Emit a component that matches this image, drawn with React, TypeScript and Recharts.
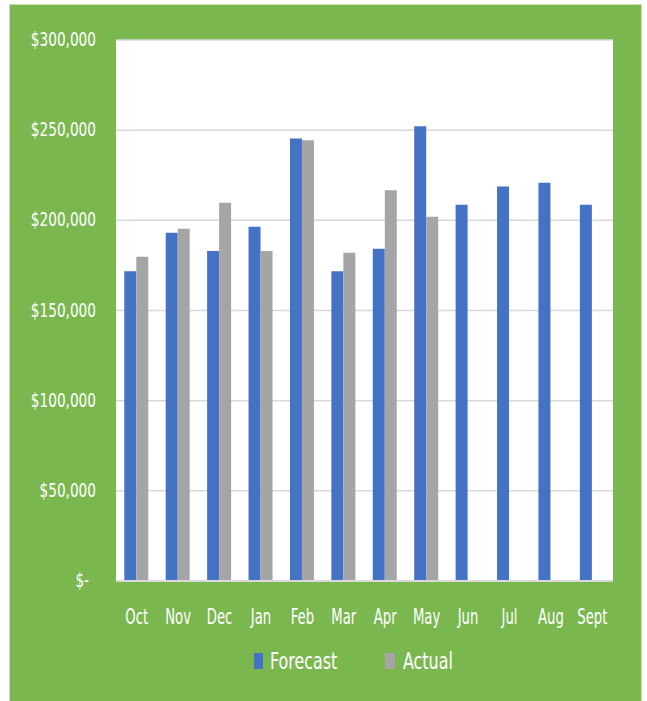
import React from "react";
import { BarChart, Bar, XAxis, YAxis, CartesianGrid, Legend } from "recharts";

const months = ["Oct", "Nov", "Dec", "Jan", "Feb", "Mar", "Apr", "May", "Jun", "Jul", "Aug", "Sept"];
const forecast = [171800, 193100, 183000, 196500, 245400, 171800, 184300, 252200, 208700, 218700, 220900, 208700];
const actual: (number | null)[] = [179800, 195400, 209800, 183000, 244400, 182000, 216700, 202000, null, null, null, null];
const yTicks = [0, 50000, 100000, 150000, 200000, 250000, 300000];

const data = months.map((m, i) => ({ month: m, Forecast: forecast[i], Actual: actual[i] }));

const FONT = "'DejaVu Sans Condensed', 'DejaVu Sans', sans-serif";
const BLUE = "#4472C4";
const GRAY = "#A5A5A5";
const GREEN = "#7AB74F";

const fmt = (v: number) => (v === 0 ? "$-" : "$" + v.toLocaleString("en-US"));

const YTick = (props: any) => {
  const { x, y, payload } = props;
  const v = payload.value;
  return (
    <g transform={`translate(${x + (v === 0 ? -7 : 0)},${y}) scale(0.76,1)`}>
      <text x={0} y={0} dy="0.3em" textAnchor="end" fill="#ffffff" fontSize={20} fontFamily={FONT}>
        {fmt(v)}
      </text>
    </g>
  );
};

const XTick = (props: any) => {
  const { x, y, payload } = props;
  return (
    <g transform={`translate(${x},${y}) scale(0.7,1)`}>
      <text x={0} y={0} dy="0.71em" textAnchor="middle" fill="#ffffff" fontSize={21} fontFamily={FONT}>
        {payload.value}
      </text>
    </g>
  );
};

const labelStyle: React.CSSProperties = {
  position: "absolute",
  top: 0,
  lineHeight: "26px",
  fontFamily: FONT,
  fontSize: 23,
  color: "#fff",
  transform: "scaleX(0.77)",
  transformOrigin: "left center",
  whiteSpace: "nowrap",
};

const LegendContent = () => (
  <div style={{ position: "relative", width: 647, height: 26 }}>
    <span style={{ position: "absolute", left: 254, top: 5, width: 9, height: 16, background: BLUE }} />
    <span style={{ ...labelStyle, left: 270 }}>Forecast</span>
    <span style={{ position: "absolute", left: 385, top: 5, width: 10, height: 16, background: GRAY }} />
    <span style={{ ...labelStyle, left: 403 }}>Actual</span>
  </div>
);

export default function App() {
  return (
    <div style={{ position: "absolute", left: 0, top: 0, width: 647, height: 701, background: "#ffffff", overflow: "hidden" }}>
      <div
        style={{
          position: "absolute",
          left: 9,
          top: 4,
          width: 631,
          height: 700,
          background: GREEN,
          border: "1px solid #C5E0B4",
        }}
      />
      <div style={{ position: "absolute", left: 0, top: 0 }}>
        <BarChart
          width={647}
          height={701}
          data={data}
          margin={{ top: 40, right: 34, left: 16, bottom: 0 }}
          barCategoryGap="20%"
          barGap={0}
        >
          <CartesianGrid vertical={false} stroke="#D9D9D9" strokeWidth={1.5} fill="#ffffff" />
          <XAxis
            dataKey="month"
            height={94}
            axisLine={{ stroke: "#D9D9D9", strokeWidth: 2 }}
            tickLine={false}
            tickSize={0}
            tickMargin={28}
            tick={<XTick />}
            interval={0}
          />
          <YAxis
            width={100}
            domain={[0, 300000]}
            ticks={yTicks}
            axisLine={false}
            tickLine={false}
            tickSize={0}
            tickMargin={20}
            tick={<YTick />}
          />
          <Legend
            content={<LegendContent />}
            wrapperStyle={{ position: "absolute", top: 648, left: 0, width: 647, height: 26 }}
          />
          <Bar dataKey="Forecast" fill={BLUE} isAnimationActive={false} />
          <Bar dataKey="Actual" fill={GRAY} isAnimationActive={false} />
        </BarChart>
      </div>
    </div>
  );
}
